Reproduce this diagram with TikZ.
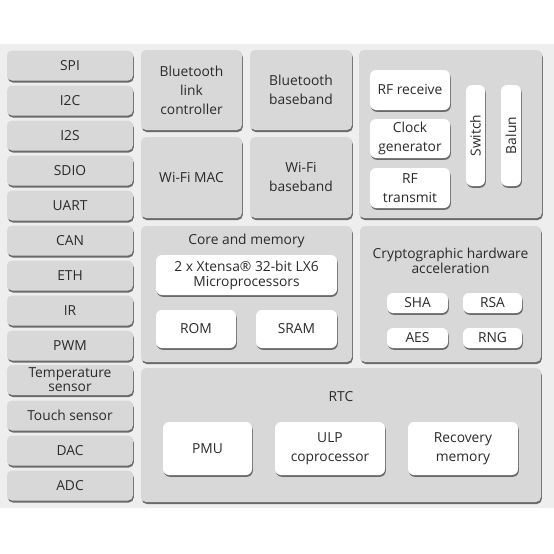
\documentclass[tikz,border=0pt]{standalone}
\usepackage{fontspec}
\setmainfont{Open Sans}
\usepackage{xcolor}
\usepackage{tikz}
\usetikzlibrary{shadows}
\usetikzlibrary{backgrounds}

\definecolor{bggray}{HTML}{EEEEEE}
\definecolor{boxgray}{HTML}{D8D8D8}
\definecolor{shadegray}{HTML}{6A6A6A}
\definecolor{txtgray}{HTML}{2A2A2A}

\begin{document}
\begin{tikzpicture}
[x=1pt,y=-1pt,
font=\fontsize{13.8}{19}\selectfont,
blk/.style={rectangle,rounded corners=5pt,fill=boxgray,text=txtgray,align=center,inner sep=0pt,
  drop shadow={shadow xshift=0.8pt,shadow yshift=-2pt,fill=shadegray,opacity=1}},
unit/.style={rectangle,rounded corners=6pt,fill=white,text=txtgray,align=center,inner sep=0pt,
  drop shadow={shadow xshift=0.8pt,shadow yshift=-1.8pt,fill=shadegray,opacity=1}},
periph/.style={blk,minimum width=126pt,minimum height=30pt},
ttl/.style={text=txtgray,align=center,inner sep=0pt}]

\useasboundingbox (0,0) rectangle (554,554);
\fill [bggray] (0,44) rectangle (554,508);

% peripherals
\node at (70,65.5)  [periph] (spi)   {SPI};
\node at (70,100.5) [periph] (itwoc) {I2C};
\node at (70,135.5) [periph] (itwos) {I2S};
\node at (70,170.5) [periph] (sdio)  {SDIO};
\node at (70,205.5) [periph] (uart)  {UART};
\node at (70,240.5) [periph] (can)   {CAN};
\node at (70,275.5) [periph] (eth)   {ETH};
\node at (70,310.5) [periph] (ir)    {IR};
\node at (70,345.5) [periph] (pwm)   {PWM};
\node at (70,380) [periph,font=\fontsize{13.8}{14}\selectfont] (temp) {Temperature\\sensor};
\node at (70,415.5) [periph] (touch) {Touch sensor};
\node at (70,450.5) [periph] (dac)   {DAC};
\node at (70,485.5) [periph] (adc)   {ADC};

% radio
\node at (191.5,90)    [blk,minimum width=101pt,minimum height=80pt] (btlink)   {Bluetooth\\link\\controller};
\node at (301,90)      [blk,minimum width=102pt,minimum height=80pt] (btbase)   {Bluetooth\\baseband};
\node at (191.5,177.5) [blk,minimum width=101pt,minimum height=81pt] (wifimac)  {Wi-Fi MAC};
\node at (301,177.5)   [blk,minimum width=102pt,minimum height=81pt] (wifibase) {Wi-Fi\\baseband};

\node at (450.5,134) [blk,minimum width=183pt,minimum height=168pt] (rf) {};
\node at (410,90)    [unit,minimum width=80pt,minimum height=40pt] (rfrx)  {RF receive};
\node at (410,138.5) [unit,minimum width=80pt,minimum height=39pt] (clk) {Clock\\generator};
\node at (410,188)   [unit,minimum width=80pt,minimum height=40pt] (rftx) {RF\\transmit};
\node at (475.5,135.5) [unit,minimum width=101pt,minimum height=19pt,rotate=90] (switch) {Switch};
\node at (511,135.5)   [unit,minimum width=101pt,minimum height=20pt,rotate=90] (balun)  {Balun};

% core
\node at (246.5,294) [blk,minimum width=211pt,minimum height=136pt] (core) {};
\node at (246.5,241) [ttl] (coretitle) {Core and memory};
\node at (246.5,275) [unit,minimum width=181pt,minimum height=40pt,font=\fontsize{13.8}{15}\selectfont] (xtensa) {2 x Xtensa\textregistered{} 32-bit LX6\\Microprocessors};
\node at (196,329)   [unit,minimum width=80pt,minimum height=38pt] (rom)  {ROM};
\node at (296.5,329) [unit,minimum width=81pt,minimum height=38pt] (sram) {SRAM};

% crypto
\node at (450.5,294) [blk,minimum width=181pt,minimum height=136pt] (crypto) {};
\node at (450.5,260.5) [ttl,font=\fontsize{13.8}{15}\selectfont] (cryptotitle) {Cryptographic hardware\\acceleration};
\node at (417.5,303) [unit,minimum width=61pt,minimum height=20pt] (sha) {SHA};
\node at (492.5,303) [unit,minimum width=59pt,minimum height=20pt] (rsa) {RSA};
\node at (417.5,338) [unit,minimum width=61pt,minimum height=20pt] (aes) {AES};
\node at (492.5,338) [unit,minimum width=59pt,minimum height=20pt] (rng) {RNG};

% rtc
\node at (341,435)  [blk,minimum width=400pt,minimum height=134pt] (rtc) {};
\node at (341,397)  [ttl] (rtctitle) {RTC};
\node at (207.5,448.5) [unit,minimum width=89pt,minimum height=53pt]  (pmu)   {PMU};
\node at (330,448.5)   [unit,minimum width=110pt,minimum height=53pt] (ulp)   {ULP\\coprocessor};
\node at (463,448.5)   [unit,minimum width=110pt,minimum height=53pt] (recov) {Recovery\\memory};
\end{tikzpicture}
\end{document}
